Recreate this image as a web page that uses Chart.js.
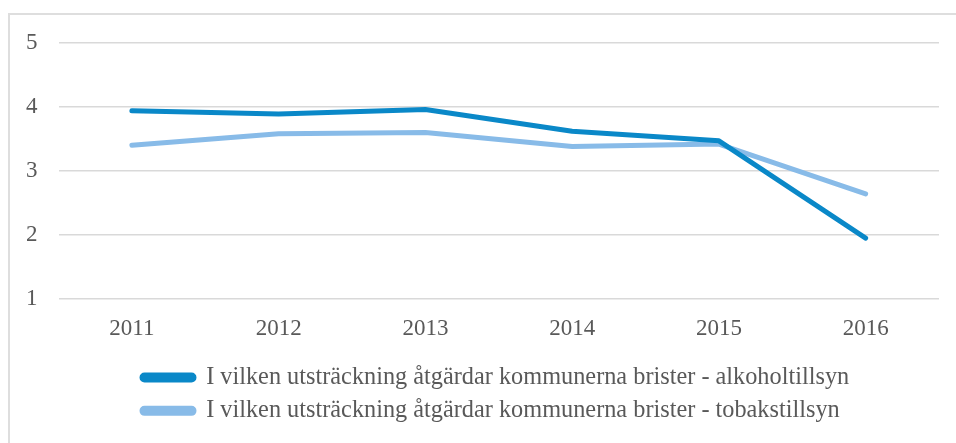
<!DOCTYPE html>
<html>
<head>
<meta charset="utf-8">
<script src="https://cdn.jsdelivr.net/npm/chart.js@4.4.0/dist/chart.umd.min.js"></script>
<style>
  body { margin: 0; background: #fff; overflow: hidden; }
  #frame { position: absolute; left: 8px; top: 13px; width: 1000px; height: 500px;
           border-left: 2px solid #dedede; border-top: 2px solid #dedede; }
  #wrap { position: absolute; left: 0; top: 0; width: 956px; height: 443px; }
</style>
</head>
<body>
<div id="frame"></div>
<div id="wrap"><canvas id="chart"></canvas></div>
<script>
// years on the x axis
var years = ["2011", "2012", "2013", "2014", "2015", "2016"];

var alkohol = [3.94, 3.89, 3.96, 3.62, 3.47, 1.95];
var tobak = [3.40, 3.58, 3.60, 3.38, 3.42, 2.64];

var labelAlkohol = "I vilken utsträckning åtgärdar kommunerna brister - alkoholtillsyn";
var labelTobak = "I vilken utsträckning åtgärdar kommunerna brister - tobakstillsyn";

var darkBlue = "#0a88c8";
var lightBlue = "#88bbe8";
var textGrey = "#595959";
var serif = "'Liberation Serif', 'Times New Roman', serif";
var tickFont = { family: serif, size: 23 };
var legendFont = { family: serif, size: 24.3 };

// both legend rows start at the same x in the original
var nudgeLegend = {
    id: "nudgeLegend",
    afterLayout: function(chart) {
        chart.legend.left += 128;
        chart.legend.right += 128;
    }
};

var ctx = document.getElementById("chart");
var chart = new Chart(ctx, {
    type: "line",
    data: {
        labels: years,
        datasets: [{
            label: labelAlkohol,
            data: alkohol,
            borderColor: darkBlue,
            backgroundColor: darkBlue,
            borderWidth: 5,
            tension: 0,
            pointRadius: 0,
            borderCapStyle: "round",
            borderJoinStyle: "round"
        }, {
            label: labelTobak,
            data: tobak,
            borderColor: lightBlue,
            backgroundColor: lightBlue,
            borderWidth: 5,
            tension: 0,
            pointRadius: 0,
            borderCapStyle: "round",
            borderJoinStyle: "round"
        }]
    },
    plugins: [nudgeLegend],
    options: {
        responsive: true,
        maintainAspectRatio: false,
        animation: false,
        layout: { padding: { left: 5, right: 17, top: 43, bottom: 10 } },
        scales: {
            y: {
                min: 1,
                max: 5,
                ticks: { stepSize: 1, color: textGrey, font: tickFont, padding: 21 },
                grid: { color: "#d9d9d9", lineWidth: 1.5, drawTicks: false },
                border: { display: false }
            },
            x: {
                offset: true,
                ticks: { color: textGrey, font: tickFont, padding: 8 },
                grid: { display: false },
                border: { display: false },
                afterFit: function(scale) { scale.height += 6; }
            }
        },
        plugins: {
            tooltip: { enabled: false },
            legend: {
                position: "bottom",
                align: "start",
                labels: {
                    color: textGrey,
                    font: legendFont,
                    boxWidth: 52,
                    boxHeight: 5,
                    useBorderRadius: true,
                    borderRadius: 2.5,
                    padding: 9
                }
            }
        }
    }
});
</script>
</body>
</html>
